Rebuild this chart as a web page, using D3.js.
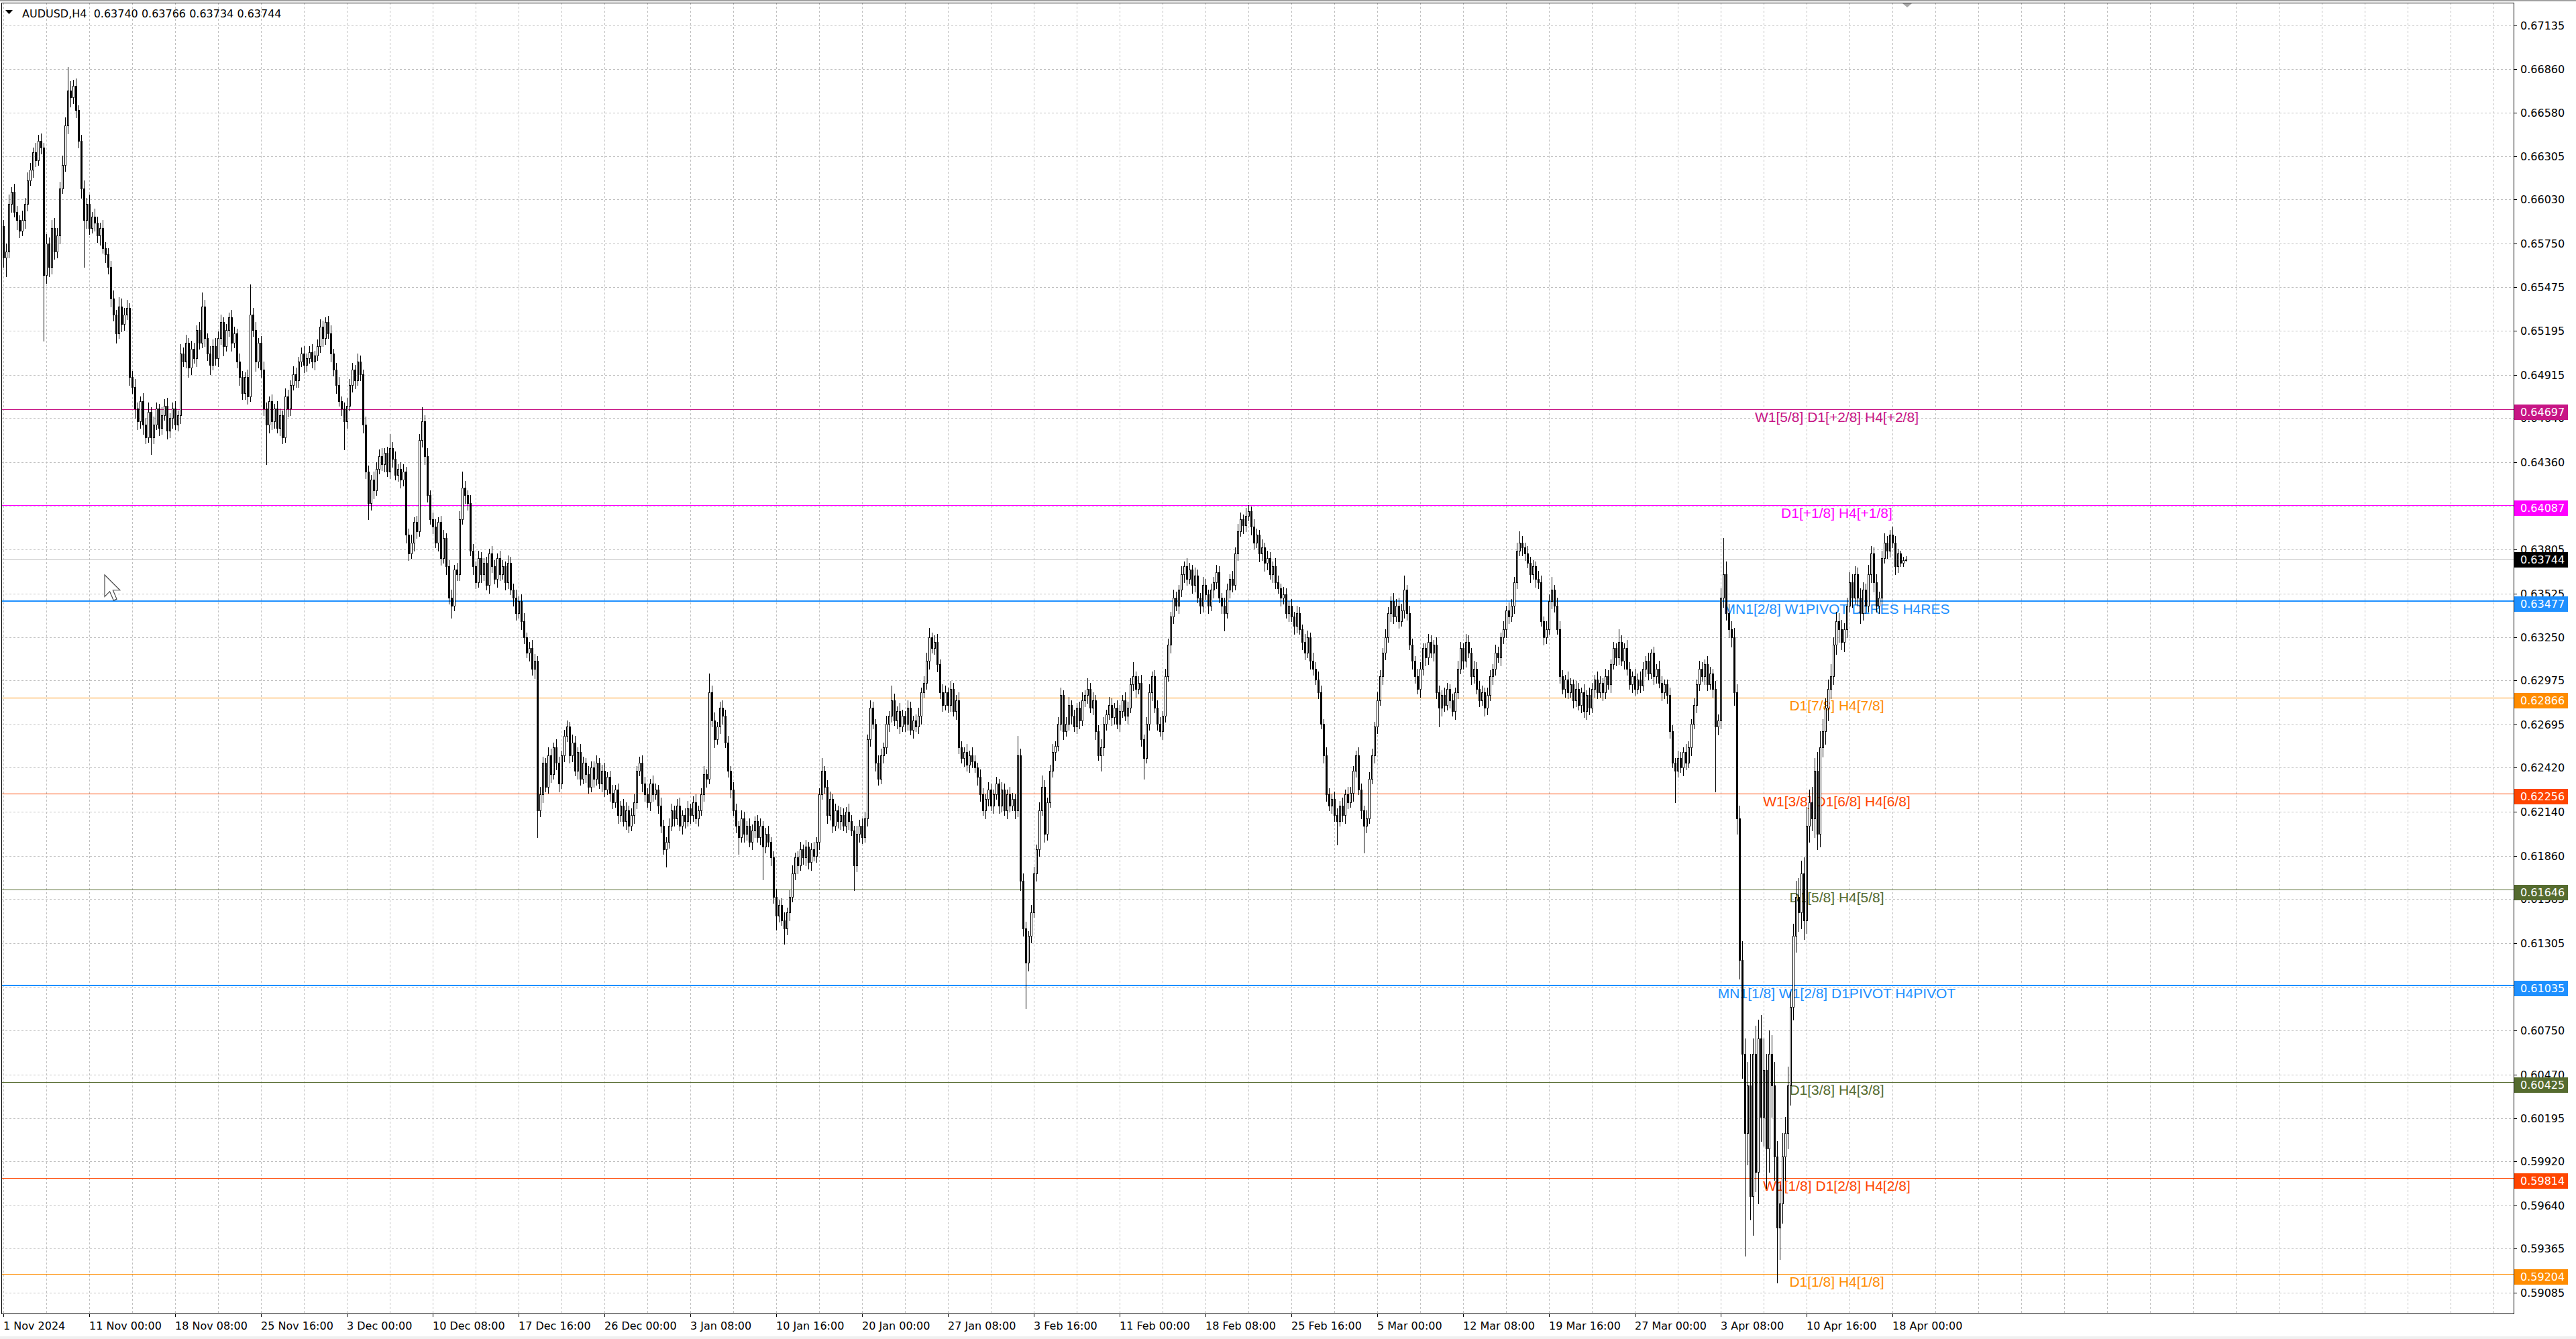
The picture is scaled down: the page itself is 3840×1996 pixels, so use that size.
<!DOCTYPE html>
<html><head><meta charset="utf-8">
<script src="https://cdn.jsdelivr.net/npm/d3@7"></script>
<style>html,body{margin:0;padding:0;background:#fff;overflow:hidden}svg{display:block}</style>
</head><body>
<svg id="c" width="3840" height="1996"></svg>
<script>
// ---------------- DATA ----------------
const symbolTitle = "AUDUSD,H4";
const lastBar = ["0.63740", "0.63766", "0.63734", "0.63744"];
const currentPrice = 0.63744;
const firstOpen = 6586; // price in 0.0001 units
// H4 closes, 1 Nov 2024 16:00 -> 18 Apr 2025 20:00 (units of 0.0001)
const closes = [
6566,6570,6600,6608,6595,6590,6583,6590,6600,6615,
6622,6633,6628,6640,6636,6555,6575,6560,6585,6570,
6580,6610,6625,6650,6672,6668,6675,6660,6640,6610,
6590,6600,6585,6592,6588,6580,6585,6572,6568,6560,
6540,6530,6518,6535,6524,6530,6534,6490,6484,6470,
6462,6475,6460,6452,6468,6452,6460,6470,6458,6466,
6472,6456,6464,6470,6460,6466,6505,6500,6512,6496,
6508,6502,6520,6512,6535,6515,6505,6498,6510,6502,
6515,6525,6510,6520,6528,6512,6518,6500,6490,6480,
6490,6478,6530,6520,6500,6512,6495,6470,6460,6475,
6462,6470,6458,6466,6452,6478,6470,6485,6492,6488,
6500,6505,6498,6502,6506,6500,6504,6510,6522,6515,
6525,6518,6505,6495,6485,6475,6470,6462,6472,6485,
6495,6488,6500,6492,6460,6430,6410,6425,6418,6432,
6440,6435,6442,6430,6445,6438,6428,6432,6425,6430,
6390,6378,6385,6398,6392,6450,6462,6440,6415,6400,
6395,6385,6398,6375,6388,6370,6350,6345,6368,6365,
6400,6420,6415,6410,6380,6370,6360,6375,6365,6372,
6358,6378,6370,6362,6375,6365,6370,6360,6372,6355,
6350,6340,6348,6335,6325,6315,6318,6305,6310,6215,
6225,6245,6230,6250,6238,6255,6245,6232,6250,6262,
6268,6250,6258,6240,6252,6235,6245,6238,6230,6242,
6235,6245,6232,6240,6228,6236,6226,6220,6228,6212,
6218,6208,6215,6205,6212,6220,6240,6245,6232,6225,
6220,6232,6225,6228,6218,6205,6190,6195,6205,6215,
6210,6218,6205,6212,6208,6216,6212,6220,6210,6215,
6225,6238,6235,6290,6272,6260,6268,6280,6275,6258,
6240,6228,6215,6205,6198,6210,6200,6205,6195,6202,
6208,6198,6205,6192,6200,6195,6185,6160,6148,6155,
6145,6140,6150,6160,6175,6185,6180,6190,6185,6192,
6182,6190,6186,6195,6225,6240,6230,6212,6222,6205,
6215,6208,6212,6205,6214,6208,6202,6180,6200,6205,
6198,6210,6260,6280,6270,6245,6235,6250,6255,6270,
6275,6285,6272,6278,6268,6275,6270,6280,6266,6272,
6268,6275,6290,6296,6310,6325,6318,6322,6308,6290,
6282,6290,6282,6292,6278,6285,6255,6248,6252,6244,
6250,6246,6242,6236,6225,6215,6222,6228,6218,6225,
6232,6218,6228,6215,6225,6218,6222,6215,6250,6170,
6140,6118,6135,6150,6175,6190,6215,6230,6200,6220,
6240,6252,6256,6270,6288,6265,6270,6282,6275,6268,
6280,6272,6285,6288,6292,6280,6285,6265,6250,6255,
6270,6276,6282,6274,6280,6270,6278,6285,6275,6280,
6295,6300,6292,6296,6260,6248,6270,6290,6300,6280,
6270,6265,6275,6300,6320,6338,6350,6345,6355,6365,
6370,6362,6368,6358,6364,6350,6345,6358,6352,6345,
6355,6360,6366,6350,6345,6340,6355,6362,6358,6378,
6392,6400,6396,6402,6405,6395,6385,6390,6378,6382,
6372,6375,6365,6370,6360,6356,6350,6352,6340,6345,
6338,6332,6340,6330,6322,6315,6325,6310,6305,6298,
6290,6270,6250,6225,6218,6222,6212,6208,6218,6212,
6225,6220,6226,6240,6250,6228,6215,6205,6210,6235,
6250,6268,6285,6300,6315,6325,6340,6348,6338,6345,
6335,6342,6355,6340,6320,6310,6300,6292,6305,6318,
6312,6322,6315,6320,6290,6280,6288,6282,6292,6285,
6278,6290,6305,6318,6310,6322,6315,6300,6305,6292,
6285,6290,6280,6288,6300,6305,6315,6312,6325,6330,
6342,6338,6345,6360,6380,6385,6382,6378,6372,6365,
6370,6362,6360,6335,6325,6330,6348,6355,6345,6330,
6300,6292,6298,6290,6295,6285,6292,6282,6290,6278,
6288,6280,6292,6298,6290,6296,6290,6300,6295,6308,
6318,6312,6322,6310,6318,6305,6295,6300,6292,6298,
6294,6305,6310,6302,6315,6300,6305,6296,6290,6295,
6288,6265,6245,6240,6248,6242,6252,6245,6255,6270,
6282,6295,6305,6300,6308,6295,6302,6292,6268,6272,
6350,6365,6340,6330,6325,6290,6210,6120,6060,6010,
6040,5970,6060,5985,6070,6020,6050,6000,6060,6040,
5995,5950,5965,5995,6010,6040,6090,6135,6160,6150,
6175,6145,6205,6220,6210,6240,6200,6255,6265,6280,
6292,6300,6320,6335,6330,6322,6330,6345,6360,6350,
6365,6350,6340,6355,6345,6365,6378,6360,6345,6350,
6375,6385,6380,6390,6385,6370,6378,6372,6374,6374.4
];
// upper shadows (high above body), units of 0.0001
const upperShadow = [
4,5,6,3,5,4,3,6,4,5, 4,3,6,4,5,3,6,4,5,6, 5,4,6,5,15,6,4,5,3,4, 5,4,6,3,5,4,3,5,4,4,
4,5,3,6,5,4,5,3,4,5, 4,3,5,4,6,3,5,4,3,5, 4,5,3,4,5,3,6,4,5,3, 5,4,3,5,9,4,3,5,4,5,
4,5,3,4,3,5,4,3,5,4, 3,5,19,4,5,3,4,5,4,3, 4,3,5,4,3,5,4,3,5,4, 3,4,5,3,4,5,3,4,5,4,
3,4,5,3,4,5,3,4,5,4, 4,3,5,4,3,5,4,3,5,4, 4,5,3,4,9,4,5,3,4,5, 3,4,5,3,4,4,9,4,5,3,
4,5,3,4,5,3,4,5,3,4, 5,10,4,3,5,4,3,5,4,3, 4,3,5,4,3,5,4,3,5,4, 4,5,3,4,5,3,4,5,4,3,
5,4,3,5,4,3,5,4,3,4, 4,3,5,4,3,5,4,3,5,4, 4,5,3,4,5,3,4,5,3,4, 3,4,5,3,4,5,3,4,5,4,
4,3,5,4,3,5,4,3,5,4, 3,4,5,3,4,5,3,4,5,3, 4,5,3,12,4,5,3,4,5,4, 4,3,5,4,3,5,4,3,5,4,
3,4,5,3,4,5,3,4,5,3, 4,5,3,4,5,3,4,5,3,4, 3,4,5,3,4,8,3,4,5,3, 4,3,5,4,3,5,4,3,5,4,
5,4,3,5,4,3,5,4,3,5, 3,9,4,3,5,4,3,5,4,3, 4,5,3,4,5,6,3,4,5,3, 5,4,3,5,4,3,5,4,3,5,
3,5,4,3,5,4,3,5,4,3, 4,3,5,4,3,5,4,3,12,4, 5,4,3,5,4,3,5,7,4,3, 4,5,3,4,5,3,4,5,3,4,
3,4,5,3,7,4,5,3,4,5, 4,3,5,4,3,5,4,3,5,4, 4,9,3,4,5,3,4,5,3,4, 5,4,3,5,4,3,5,4,3,5,
3,5,4,3,5,4,3,5,4,3, 4,3,5,4,3,5,4,3,5,4, 5,4,3,5,4,3,5,4,3,5, 3,5,4,3,5,4,3,5,4,3,
4,3,5,4,3,5,4,3,5,4, 5,4,3,5,4,3,5,4,3,5, 3,5,4,3,3,5,4,3,5,4, 4,3,5,4,3,5,4,3,5,4,
5,4,9,3,5,4,3,5,4,3, 3,5,4,3,5,4,3,5,4,3, 4,3,5,4,3,5,4,3,5,4, 5,4,3,5,4,3,5,4,3,5,
3,5,4,3,5,7,4,3,5,4, 4,3,5,4,3,5,4,8,3,5, 5,4,3,5,4,3,5,4,3,5, 3,5,4,3,5,4,3,5,4,3,
4,3,8,4,3,5,4,3,5,4, 5,4,3,5,2,4,3,5,4,3, 3,5,4,3,5,4,3,5,4,3, 4,3,5,4,3,5,4,3,5,4,
6,23,8,6,5,6,5,8,12,10, 15,20,10,18,12,15,20,10,15,12, 15,10,12,15,10,12,10,8,10,12,
8,10,12,8,10,8,12,10,8,6, 6,8,5,6,5,6,4,5,6,5, 5,4,6,5,4,6,5,4,5,4, 5,6,4,3,5,4,3,2,2,2.2
];
// lower shadows (low below body), units of 0.0001
const lowerShadow = [
6,12,4,5,3,6,4,3,5,4, 3,5,4,3,4,42,5,6,4,5, 4,5,3,4,5,6,4,5,4,6, 30,5,4,3,5,4,6,3,5,4,
5,4,6,3,5,4,3,5,4,6, 5,4,6,4,3,11,4,3,5,4, 3,5,4,6,3,4,5,3,4,6, 4,3,5,4,3,5,4,6,3,4,
5,4,6,3,4,5,3,4,5,4, 4,5,3,4,6,4,5,4,25,5, 5,4,3,5,4,3,5,4,3,4, 4,3,5,4,3,4,5,3,4,5,
4,3,5,4,5,3,4,18,4,3, 4,5,3,4,5,4,10,4,5,3, 3,4,5,3,4,5,3,4,5,4, 5,4,3,5,4,3,4,5,4,3,
4,3,5,4,3,5,4,8,3,4, 4,3,5,4,3,5,4,3,5,4, 3,5,4,3,5,4,3,5,4,3, 5,4,3,5,4,3,5,4,6,17,
4,5,3,4,5,3,4,5,3,4, 3,5,4,3,5,4,3,5,4,3, 5,4,3,5,4,3,5,4,3,5, 4,3,5,4,3,5,4,3,5,4,
3,5,4,3,5,4,3,11,4,3, 5,4,3,5,4,3,5,4,3,5, 3,4,5,3,4,5,3,4,5,3, 4,5,3,4,11,3,5,4,3,5,
4,3,5,21,4,3,5,4,9,4, 3,10,4,5,3,4,5,3,4,5, 4,5,3,4,5,3,4,5,3,4, 3,4,5,3,4,5,3,16,4,5,
4,3,5,4,3,5,4,3,5,4, 5,4,3,5,4,3,5,4,3,5, 3,4,5,3,4,5,3,4,5,4, 4,3,5,4,3,5,4,3,5,4,
5,4,3,5,4,3,5,4,3,5, 3,5,4,3,5,4,3,5,4,6, 5,29,5,4,3,5,4,3,5,4, 3,4,5,3,4,5,3,4,5,3,
4,5,3,4,5,3,4,5,3,10, 5,4,3,5,4,3,5,4,3,5, 3,4,5,3,4,13,3,4,5,3, 4,3,5,4,3,5,4,3,5,4,
5,4,3,5,4,3,5,4,3,5, 3,5,4,3,5,11,3,5,4,3, 4,3,5,4,3,5,4,3,5,4, 5,4,3,5,4,3,5,4,3,5,
3,5,4,3,5,4,3,5,4,3, 4,3,5,4,3,5,4,15,3,4, 5,4,3,5,4,3,5,17,4,3, 3,5,4,3,5,4,3,5,4,3,
4,3,5,4,3,5,4,3,5,4, 5,4,3,5,4,12,5,4,3,5, 3,5,4,3,5,4,3,5,4,3, 4,3,5,4,3,5,4,3,5,4,
5,4,3,5,4,3,5,4,3,5, 3,5,4,3,5,4,3,5,4,3, 4,3,5,4,3,5,4,3,5,4, 5,4,3,5,4,3,5,4,3,5,
3,5,4,3,5,4,3,5,4,3, 4,3,5,4,3,5,4,3,5,4, 5,4,3,20,4,3,5,4,3,5, 3,5,4,3,5,4,3,5,41,5,
5,6,4,5,6,8,10,12,15,78, 20,15,25,12,20,15,18,25,15,20, 15,35,20,12,15,10,12,8,10,12,
10,12,8,10,8,12,10,8,6,8, 8,6,5,6,8,5,6,5,4,6, 4,5,6,4,5,4,5,6,4,5, 4,3,5,4,3,5,4,2,2,0.6
];
const barsPerLabel = 32;
const timeLabels = ["1 Nov 2024","11 Nov 00:00","18 Nov 08:00","25 Nov 16:00","3 Dec 00:00","10 Dec 08:00",
  "17 Dec 16:00","26 Dec 00:00","3 Jan 08:00","10 Jan 16:00","20 Jan 00:00","27 Jan 08:00","3 Feb 16:00",
  "11 Feb 00:00","18 Feb 08:00","25 Feb 16:00","5 Mar 00:00","12 Mar 08:00","19 Mar 16:00","27 Mar 00:00",
  "3 Apr 08:00","10 Apr 16:00","18 Apr 00:00"];
const priceTicks = [0.67135,0.66860,0.66580,0.66305,0.66030,0.65750,0.65475,0.65195,0.64915,0.64640,
  0.64360,0.64085,0.63805,0.63525,0.63250,0.62975,0.62695,0.62420,0.62140,0.61860,0.61585,0.61305,
  0.61025,0.60750,0.60470,0.60195,0.59920,0.59640,0.59365,0.59085];
const levelPrices = [0.64697,0.64087,0.63477,0.62866,0.62256,0.61646,0.61035,0.60425,0.59814,0.59204];
const levelTexts = ["W1[5/8] D1[+2/8] H4[+2/8]","D1[+1/8] H4[+1/8]","MN1[2/8] W1PIVOT D1RES H4RES",
  "D1[7/8] H4[7/8]","W1[3/8] D1[6/8] H4[6/8]","D1[5/8] H4[5/8]","MN1[1/8] W1[2/8] D1PIVOT H4PIVOT",
  "D1[3/8] H4[3/8]","W1[1/8] D1[2/8] H4[2/8]","D1[1/8] H4[1/8]"];
const levelColors = ["#C71585","#FF00FF","#1E90FF","#FF8C00","#FF4500","#556B2F","#1E90FF","#556B2F","#FF4500","#FF8C00"];

// ---------------- DRAW ----------------
const W = 3840, H = 1996;
const frame = {left: 2, top: 4, right: 3747, bottom: 1958};
const svg = d3.select("#c");
const U = 1e-4;
const bars = closes.map((c, i) => {
  const o = i === 0 ? firstOpen : closes[i - 1];
  return {i, o: o * U, c: c * U, h: (Math.max(o, c) + upperShadow[i]) * U, l: (Math.min(o, c) - lowerShadow[i]) * U};
});
const x = d3.scaleLinear().domain([0, 1]).range([5, 9]);
const y = d3.scaleLinear().domain([0.59085, 0.67135]).range([1927, 38]);
const ry = v => Math.round(y(v));

svg.append("rect").attr("width", W).attr("height", H).attr("fill", "#ffffff");
svg.append("rect").attr("x", 0).attr("y", 0).attr("width", W).attr("height", 2).attr("fill", "#a0a0a0");
svg.append("rect").attr("x", 0).attr("y", H - 4).attr("width", W).attr("height", 4).attr("fill", "#f0f0f0");

const clip = svg.append("defs").append("clipPath").attr("id", "plotclip").append("rect")
  .attr("x", frame.left).attr("y", frame.top).attr("width", frame.right - frame.left).attr("height", frame.bottom - frame.top);
const plot = svg.append("g").attr("clip-path", "url(#plotclip)");

// grid
const gridIdx = d3.range(0, 1000, 16).filter(i => x(i) < frame.right);
plot.append("g").selectAll("line").data(gridIdx).join("line")
  .attr("x1", d => x(d) + 0.5).attr("x2", d => x(d) + 0.5)
  .attr("y1", frame.top).attr("y2", frame.bottom)
  .attr("stroke", "#c0c0c0").attr("stroke-dasharray", "3,3").attr("stroke-width", 1);
plot.append("g").selectAll("line").data(priceTicks).join("line")
  .attr("x1", frame.left).attr("x2", frame.right)
  .attr("y1", d => ry(d) + 0.5).attr("y2", d => ry(d) + 0.5)
  .attr("stroke", "#c0c0c0").attr("stroke-dasharray", "3,3").attr("stroke-width", 1);

// levels
const levels = levelPrices.map((p, k) => ({p, t: levelTexts[k], col: levelColors[k]}));
plot.append("g").selectAll("line").data(levels).join("line")
  .attr("x1", frame.left).attr("x2", frame.right)
  .attr("y1", d => d.col === "#1E90FF" ? ry(d.p) : ry(d.p) + 0.5)
  .attr("y2", d => d.col === "#1E90FF" ? ry(d.p) : ry(d.p) + 0.5)
  .attr("stroke", d => d.col).attr("stroke-width", d => d.col === "#1E90FF" ? 2 : 1);
plot.append("line").attr("x1", frame.left).attr("x2", frame.right)
  .attr("y1", ry(currentPrice) + 0.5).attr("y2", ry(currentPrice) + 0.5)
  .attr("stroke", "#c0c0c0").attr("stroke-width", 1);
plot.append("g").selectAll("text").data(levels).join("text")
  .attr("x", 2738).attr("y", d => ry(d.p) + 19).attr("text-anchor", "middle")
  .attr("font-family", "'Liberation Sans', Arial, sans-serif").attr("font-size", 21)
  .attr("fill", d => d.col).text(d => d.t);

// candles
const cg = plot.append("g").attr("shape-rendering", "crispEdges");
cg.selectAll("rect.w").data(bars).join("rect").attr("class", "w")
  .attr("x", d => x(d.i)).attr("width", 1)
  .attr("y", d => ry(d.h)).attr("height", d => Math.max(1, ry(d.l) - ry(d.h) + 1)).attr("fill", "#000");
cg.selectAll("rect.b").data(bars).join("rect").attr("class", "b")
  .attr("x", d => x(d.i) - 1).attr("width", 3)
  .attr("y", d => ry(Math.max(d.o, d.c))).attr("height", d => Math.max(1, ry(Math.min(d.o, d.c)) - ry(Math.max(d.o, d.c)) + 1))
  .attr("fill", "#000");
cg.selectAll("rect.u").data(bars.filter(d => d.c > d.o && ry(d.o) - ry(d.c) >= 2)).join("rect").attr("class", "u")
  .attr("x", d => x(d.i)).attr("width", 1)
  .attr("y", d => ry(d.c) + 1).attr("height", d => ry(d.o) - ry(d.c) - 1).attr("fill", "#fff");

// cursor
plot.append("path").attr("transform", "translate(156,857) scale(1.9)")
  .attr("d", "M0,0 L0,17 L4,13 L7,20 L9.5,19 L6.5,12 L12,12 Z")
  .attr("fill", "#fff").attr("stroke", "#444").attr("stroke-width", 0.6);

// frame
svg.append("rect").attr("x", frame.left + 0.5).attr("y", frame.top + 0.5)
  .attr("width", frame.right - frame.left).attr("height", frame.bottom - frame.top)
  .attr("fill", "none").attr("stroke", "#000").attr("stroke-width", 1);
svg.append("path").attr("d", "M2836,5 L2850,5 L2843,11 Z").attr("fill", "#a8a8a8");

// price axis
const font = "'DejaVu Sans', Verdana, sans-serif";
const pa = svg.append("g");
pa.selectAll("line").data(priceTicks).join("line")
  .attr("x1", frame.right).attr("x2", frame.right + 5)
  .attr("y1", d => ry(d) + 0.5).attr("y2", d => ry(d) + 0.5).attr("stroke", "#000");
pa.selectAll("text").data(priceTicks).join("text")
  .attr("x", 3757).attr("y", d => ry(d) + 6).attr("font-family", font).attr("font-size", 16)
  .attr("fill", "#000").text(d => d.toFixed(5));
const boxes = svg.append("g");
levels.forEach(d => {
  boxes.append("rect").attr("x", 3748).attr("y", ry(d.p) - 7).attr("width", 80).attr("height", 23).attr("fill", d.col);
  boxes.append("text").attr("x", 3757).attr("y", ry(d.p) + 10).attr("font-family", font).attr("font-size", 16)
    .attr("fill", "#fff").text(d.p.toFixed(5));
});
boxes.append("rect").attr("x", 3748).attr("y", ry(currentPrice) - 11).attr("width", 80).attr("height", 23).attr("fill", "#000");
boxes.append("text").attr("x", 3757).attr("y", ry(currentPrice) + 6).attr("font-family", font).attr("font-size", 16)
  .attr("fill", "#fff").text(currentPrice.toFixed(5));

// time axis
const ta = svg.append("g");
const labelIdx = timeLabels.map((t, k) => ({i: k * barsPerLabel, t}));
ta.selectAll("line").data(labelIdx).join("line")
  .attr("x1", d => x(d.i) + 0.5).attr("x2", d => x(d.i) + 0.5)
  .attr("y1", frame.bottom).attr("y2", frame.bottom + 5).attr("stroke", "#000");
ta.selectAll("text").data(labelIdx).join("text")
  .attr("x", d => x(d.i)).attr("y", 1982).attr("font-family", font).attr("font-size", 16)
  .attr("fill", "#000").text(d => d.t);

// header
svg.append("path").attr("d", "M8,15 L19,15 L13.5,21 Z").attr("fill", "#000");
svg.append("text").attr("x", 33).attr("y", 26).attr("font-family", font).attr("font-size", 16)
  .attr("fill", "#000").style("white-space", "pre")
  .text(symbolTitle + "  " + lastBar.join(" "));
</script>
</body></html>
